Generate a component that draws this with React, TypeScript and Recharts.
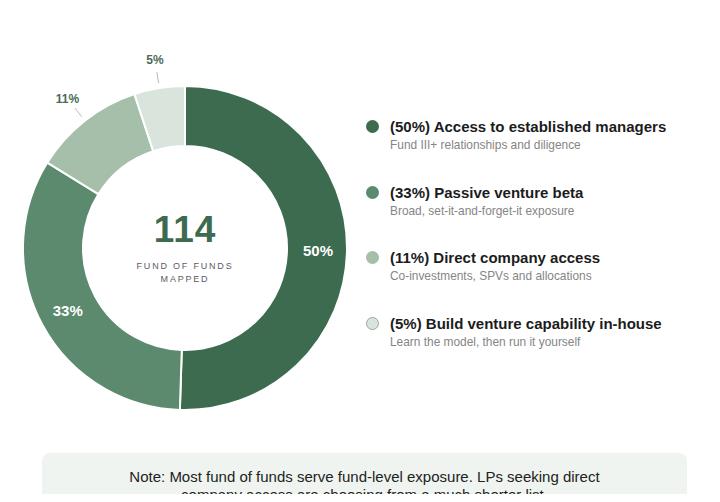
import { PieChart, Pie, Cell } from 'recharts';

const categories = [
  'Access to established managers',
  'Passive venture beta',
  'Direct company access',
  'Build venture capability in-house',
];
const subtitles = [
  'Fund III+ relationships and diligence',
  'Broad, set-it-and-forget-it exposure',
  'Co-investments, SPVs and allocations',
  'Learn the model, then run it yourself',
];
const shares = [50, 33, 11, 5];
const colors = ['#3c6b50', '#5b8a6e', '#a5bfaa', '#d9e4dc'];

const totalFunds = 114;

const data = categories.map((name, i) => ({ name, value: shares[i] }));

const RAD = Math.PI / 180;

// inside labels for big slices, outside with a short tick for small ones
const renderLabel = (props: any) => {
  const { cx, cy, midAngle, index, value } = props;
  const cos = Math.cos(-midAngle * RAD);
  const sin = Math.sin(-midAngle * RAD);
  if (value >= 20) {
    const r = 133;
    return (
      <text
        x={cx + r * cos}
        y={cy + r * sin}
        fill="#ffffff"
        textAnchor="middle"
        dominantBaseline="central"
        fontSize={15}
        fontWeight={700}
        fontFamily="Liberation Sans, Arial, sans-serif"
      >
        {value}%
      </text>
    );
  }
  return (
    <g key={`lbl-${index}`}>
      <line
        x1={cx + 167 * cos}
        y1={cy + 167 * sin}
        x2={cx + 178 * cos}
        y2={cy + 178 * sin}
        stroke="#b5bcb8"
        strokeWidth={1}
      />
      <text
        x={cx + 190 * cos}
        y={cy + 190 * sin}
        fill="#4a6b58"
        textAnchor="middle"
        dominantBaseline="central"
        fontSize={12}
        fontWeight={700}
        fontFamily="Liberation Sans, Arial, sans-serif"
      >
        {value}%
      </text>
    </g>
  );
};

export default function App() {
  return (
    <div
      style={{
        position: 'relative',
        width: 720,
        height: 502,
        margin: -8,
        background: '#ffffff',
        overflow: 'hidden',
        fontFamily: 'Liberation Sans, Arial, sans-serif',
      }}
    >
      <div style={{ position: 'absolute', left: 0, top: 0, width: 5, height: 502, background: '#eeedea' }} />

      <div style={{ position: 'absolute', left: 0, top: 0 }}>
        <PieChart width={370} height={440} margin={{ top: 0, right: 0, bottom: 0, left: 0 }}>
          <Pie
            data={data}
            dataKey="value"
            cx={185}
            cy={248}
            innerRadius={102}
            outerRadius={162}
            startAngle={90}
            endAngle={-270}
            stroke="#ffffff"
            strokeWidth={2}
            label={renderLabel}
            labelLine={false}
            isAnimationActive={false}
          >
            {data.map((d, i) => (
              <Cell key={d.name} fill={colors[i]} />
            ))}
          </Pie>
        </PieChart>
      </div>

      {/* centre label */}
      <div style={{ position: 'absolute', left: 85, top: 208, width: 200, textAlign: 'center' }}>
        <div style={{ fontSize: 37, fontWeight: 700, color: '#3c6b50', lineHeight: '44px', letterSpacing: 1 }}>
          {totalFunds}
        </div>
        <div style={{ fontSize: 9, letterSpacing: 1.8, color: '#5c5a68', lineHeight: '13px', marginTop: 8 }}>
          FUND OF FUNDS
          <br />
          MAPPED
        </div>
      </div>

      {/* legend */}
      {categories.map((name, i) => (
        <div key={name} style={{ position: 'absolute', left: 366, top: 117 + i * 65.5 }}>
          <div
            style={{
              position: 'absolute',
              left: 0,
              top: 3,
              width: 13,
              height: 13,
              borderRadius: '50%',
              background: colors[i],
              boxSizing: 'border-box',
              border: i === 3 ? '1px solid #9aa8a0' : 'none',
            }}
          />
          <div
            style={{
              position: 'absolute',
              left: 24,
              top: 0,
              whiteSpace: 'nowrap',
              fontSize: 15,
              fontWeight: 700,
              color: '#1c1c1c',
              lineHeight: '19px',
            }}
          >
            ({shares[i]}%) {name}
          </div>
          <div
            style={{
              position: 'absolute',
              left: 24,
              top: 21,
              whiteSpace: 'nowrap',
              fontSize: 11.9,
              color: '#858585',
              lineHeight: '14px',
            }}
          >
            {subtitles[i]}
          </div>
        </div>
      ))}

      {/* note box */}
      <div
        style={{
          position: 'absolute',
          left: 42,
          top: 453,
          width: 645,
          height: 70,
          background: '#eff4f0',
          borderRadius: 8,
          textAlign: 'center',
          fontSize: 15,
          color: '#222222',
          lineHeight: '18px',
          paddingTop: 15,
          boxSizing: 'border-box',
        }}
      >
        Note: Most fund of funds serve fund-level exposure. LPs seeking direct
        <br />
        company access are choosing from a much shorter list.
      </div>
    </div>
  );
}
